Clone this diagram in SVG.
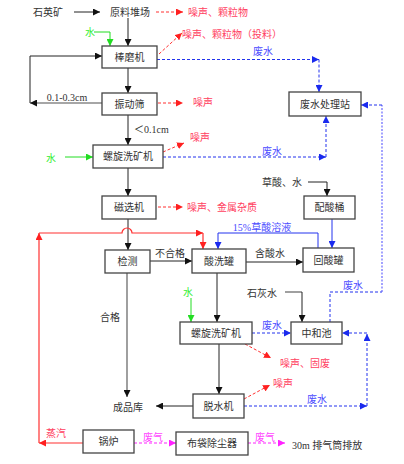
<svg xmlns="http://www.w3.org/2000/svg" width="404" height="464" viewBox="0 0 404 464">
<style>
text{font-family:"Liberation Serif","Noto Sans CJK SC",serif;font-size:10px;fill:#333;dominant-baseline:central}
.c{text-anchor:middle}
.box{fill:#fff;stroke:#444;stroke-width:1.3}
.k{fill:none;stroke:#222;stroke-width:1}
.g{fill:none;stroke:#888;stroke-width:1.6}
.gr{fill:none;stroke:#22dd22;stroke-width:1}
.b{fill:none;stroke:#2233ee;stroke-width:1}
.bd{fill:none;stroke:#2233ee;stroke-width:1;stroke-dasharray:3,2}
.bl{fill:none;stroke:#6666ff;stroke-width:1.2;stroke-dasharray:2,1.5}
.rd{fill:none;stroke:#ff3030;stroke-width:1;stroke-dasharray:3,2}
.r{fill:none;stroke:#ff3030;stroke-width:1.2}
.md{fill:none;stroke:#ff22ff;stroke-width:1.2;stroke-dasharray:3,2}
.tr{fill:#ff4060}
.tb{fill:#4a4aff}
.tg{fill:#33ee33}
.tm{fill:#ff44ff}
</style>
<defs>
<marker id="ak" viewBox="0 0 10 10" refX="10" refY="5" markerWidth="7" markerHeight="7" orient="auto" markerUnits="userSpaceOnUse"><path d="M0,0 L10,5 L0,10 z" fill="#111"/></marker>
<marker id="ar" viewBox="0 0 10 10" refX="10" refY="5" markerWidth="7" markerHeight="7" orient="auto" markerUnits="userSpaceOnUse"><path d="M0,0 L10,5 L0,10 z" fill="#ff2020"/></marker>
<marker id="ab" viewBox="0 0 10 10" refX="10" refY="5" markerWidth="7" markerHeight="7" orient="auto" markerUnits="userSpaceOnUse"><path d="M0,0 L10,5 L0,10 z" fill="#1a2aee"/></marker>
<marker id="ag" viewBox="0 0 10 10" refX="10" refY="5" markerWidth="7" markerHeight="7" orient="auto" markerUnits="userSpaceOnUse"><path d="M0,0 L10,5 L0,10 z" fill="#22dd22"/></marker>
<marker id="am" viewBox="0 0 10 10" refX="10" refY="5" markerWidth="7" markerHeight="7" orient="auto" markerUnits="userSpaceOnUse"><path d="M0,0 L10,5 L0,10 z" fill="#ff22ff"/></marker>
</defs>

<g id="connectors">
<!-- black -->
<path class="k" d="M74,12 H100" marker-end="url(#ak)"/>
<path class="k" d="M128,18 V46" marker-end="url(#ak)"/>
<path class="k" d="M128,68 V93" marker-end="url(#ak)"/>
<path class="k" d="M128,115 V145" marker-end="url(#ak)"/>
<path class="k" d="M128,168 V196" marker-end="url(#ak)"/>
<path class="k" d="M128,219 V250" marker-end="url(#ak)"/>
<path class="g" d="M102,103 H30" marker-end="url(#ak)"/>
<path class="k" d="M30,103 V56 H102" marker-end="url(#ak)"/>
<path class="k" d="M150,261 H192" marker-end="url(#ak)"/>
<path class="k" d="M246,262 H303" marker-end="url(#ak)"/>
<path class="g" d="M127,273 V397" marker-end="url(#ak)"/>
<path class="k" d="M217,273 V322" marker-end="url(#ak)"/>
<path class="g" d="M285,292 H302"/>
<path class="k" d="M302,292 V322" marker-end="url(#ak)"/>
<path class="k" d="M308,182 H327 V196" marker-end="url(#ak)"/>
<path class="k" d="M219,344 V394" marker-end="url(#ak)"/>
<path class="k" d="M193,406 H156" marker-end="url(#ak)"/>
<!-- green -->
<path class="gr" d="M94,32 H110 V46" marker-end="url(#ag)"/>
<path class="gr" d="M65,157 H93" marker-end="url(#ag)"/>
<path class="gr" d="M191,298 V322" marker-end="url(#ag)"/>
<!-- blue solid -->
<path class="b" d="M332,219 V248" marker-end="url(#ab)"/>
<path class="b" d="M318,248 V233 H218 V249" marker-end="url(#ab)"/>
<!-- blue dashed -->
<path class="bd" d="M157,59.5 H319" marker-end="url(#ab)"/>
<path class="bd" d="M319,59.5 V92" marker-end="url(#ab)"/>
<path class="bd" d="M163,157 H326" marker-end="url(#ab)"/>
<path class="bd" d="M326,157 V116" marker-end="url(#ab)"/>
<path class="bd" d="M252,333 H291" marker-end="url(#ab)"/>
<path class="bd" d="M330,322 V292 H382"/>
<path class="bl" d="M382,292 V105"/>
<path class="bd" d="M382,105 H361" marker-end="url(#ab)"/>
<path class="bd" d="M244,406 H367" marker-end="url(#ab)"/>
<path class="bd" d="M367,406 V334" marker-end="url(#ab)"/>
<path class="bd" d="M367,333 H342" marker-end="url(#ab)"/>
<!-- red dashed -->
<path class="rd" d="M156,12 H183" marker-end="url(#ar)"/>
<path class="rd" d="M159,54 L182,33" marker-end="url(#ar)"/>
<path class="rd" d="M158,103 H183" marker-end="url(#ar)"/>
<path class="rd" d="M163,152 L184,143" marker-end="url(#ar)"/>
<path class="rd" d="M158,207 H183" marker-end="url(#ar)"/>
<path class="rd" d="M245,344 L271,358" marker-end="url(#ar)"/>
<path class="rd" d="M244,399 L270,385" marker-end="url(#ar)"/>
<!-- red steam -->
<path class="r" d="M83,443 H39" marker-end="url(#ar)"/>
<path class="r" d="M39,443 V233" marker-end="url(#ar)"/>
<path class="r" d="M39,233 H122 A5,5 0 0 1 132,233 H203" marker-end="url(#ar)"/>
<path class="r" d="M203,233 V249" marker-end="url(#ar)"/>
<!-- magenta -->
<path class="md" d="M134,443 H176" marker-end="url(#am)"/>
<path class="md" d="M248,443 H285" marker-end="url(#am)"/>
</g>

<g id="n-shiying"><text x="48" y="12" class="c">石英矿</text></g>
<g id="n-yuanliao"><text x="130" y="12" class="c">原料堆场</text></g>
<g id="n-bangmo"><rect class="box" x="102" y="46" width="55" height="22"/><text x="129.5" y="57" class="c">棒磨机</text></g>
<g id="n-zhendong"><rect class="box" x="102" y="93" width="55" height="22"/><text x="129.5" y="104" class="c">振动筛</text></g>
<g id="n-luoxuan1"><rect class="box" x="93" y="145" width="70" height="23"/><text x="128" y="156.5" class="c">螺旋洗矿机</text></g>
<g id="n-cixuan"><rect class="box" x="102" y="196" width="54" height="23"/><text x="129" y="207.5" class="c">磁选机</text></g>
<g id="n-jiance"><rect class="box" x="105" y="250" width="45" height="23"/><text x="127.5" y="261.5" class="c">检测</text></g>
<g id="n-suanxi"><rect class="box" x="192" y="249" width="54" height="24"/><text x="219" y="261" class="c">酸洗罐</text></g>
<g id="n-huisuan"><rect class="box" x="303" y="248" width="51" height="24"/><text x="328.5" y="260" class="c">回酸罐</text></g>
<g id="n-peisuan"><rect class="box" x="304" y="196" width="51" height="23"/><text x="329.5" y="207.5" class="c">配酸桶</text></g>
<g id="n-feishui"><rect class="box" x="289" y="92" width="72" height="24"/><text x="325" y="104" class="c">废水处理站</text></g>
<g id="n-zhonghe"><rect class="box" x="291" y="322" width="51" height="22"/><text x="316.5" y="333" class="c">中和池</text></g>
<g id="n-luoxuan2"><rect class="box" x="180" y="322" width="72" height="22"/><text x="216" y="333" class="c">螺旋洗矿机</text></g>
<g id="n-tuoshui"><rect class="box" x="193" y="394" width="51" height="24"/><text x="218.5" y="406" class="c">脱水机</text></g>
<g id="n-chengpin"><text x="128" y="407" class="c">成品库</text></g>
<g id="n-guolu"><rect class="box" x="83" y="430" width="51" height="23"/><text x="108.5" y="441.5" class="c">锅炉</text></g>
<g id="n-budai"><rect class="box" x="176" y="432" width="72" height="23"/><text x="212" y="443.5" class="c">布袋除尘器</text></g>
<g id="n-paiqi"><text x="292" y="445">30m 排气筒排放</text></g>

<g id="labels">
<text x="188" y="12" class="tr">噪声、颗粒物</text>
<text x="182" y="34" class="tr">噪声、颗粒物（投料）</text>
<text x="263" y="51" class="c tb">废水</text>
<text x="90" y="32" class="c tg">水</text>
<text x="67" y="97" class="c">0.1-0.3cm</text>
<text x="193" y="102" class="tr">噪声</text>
<text x="134" y="129">＜0.1cm</text>
<text x="51" y="158" class="c tg">水</text>
<text x="190" y="137" class="tr">噪声</text>
<text x="272" y="151" class="c tb">废水</text>
<text x="262" y="182">草酸、水</text>
<text x="187" y="207" class="tr">噪声、金属杂质</text>
<text x="262" y="227" class="c tb">15%草酸溶液</text>
<text x="170" y="253" class="c">不合格</text>
<text x="270" y="253" class="c">含酸水</text>
<text x="110" y="317" class="c">合格</text>
<text x="188" y="292" class="c tg">水</text>
<text x="262" y="293" class="c">石灰水</text>
<text x="272" y="325" class="c tb">废水</text>
<text x="353" y="285" class="c tb">废水</text>
<text x="280" y="363" class="tr">噪声、固废</text>
<text x="273" y="383" class="tr">噪声</text>
<text x="317" y="399" class="c tb">废水</text>
<text x="56" y="433" class="c tr">蒸汽</text>
<text x="153" y="437" class="c tm">废气</text>
<text x="265" y="437" class="c tm">废气</text>
</g>
</svg>
